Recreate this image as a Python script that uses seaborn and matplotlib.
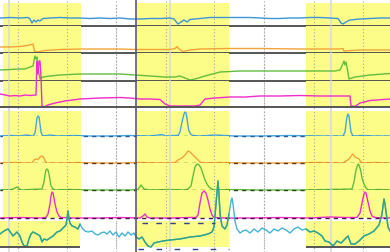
import numpy as np
import matplotlib
matplotlib.use("Agg")
import matplotlib.pyplot as plt
import seaborn as sns

sns.set_theme(style="white")

W, H = 390, 253

# shaded intervals, grid and markers (x in screen-time units 0..390)
spans_top = [(3, 81), (137, 229), (306, 390)]
spans_bottom = [(0, 80), (136, 229), (306, 390)]
grid_x = [18, 67, 116, 166, 214, 264, 314, 363]
event_x = [9, 170, 331]
cursor_x = 136

# ---- row 1: blue level trace
t_blue = [0, 10, 20, 28, 30, 32, 34, 36, 38, 40, 43, 50, 60, 70, 80, 90, 100, 110, 120, 130, 140, 150,
          160, 170, 174, 178, 181, 184, 187, 190, 200, 210, 220, 250, 260, 270, 280, 290, 300, 310, 320,
          330, 338, 341, 343, 346, 350, 360, 370, 380, 390]
v_blue = [8, 8.5, 8, 8.5, 7, 3, 6, 4, 6, 5, 7.5, 8, 8.5, 8, 8, 7.5, 8, 7.5, 8, 7, 7, 7.5,
          7.5, 8, 7, 2, 4, 6, 4, 6.5, 7.5, 8.5, 8.5, 8.5, 8, 7.5, 7.5, 8, 8, 8.5, 8.5,
          8, 7.5, 3, 2, 4, 6, 7, 7.5, 8, 8]

# ---- row 2: orange level trace
t_orange = [0, 10, 20, 30, 33, 34.5, 37, 45, 60, 80, 100, 120, 135, 150, 170, 175, 177, 179, 183, 190,
            200, 230, 260, 300, 340, 343, 344, 360, 390]
v_orange = [6, 6, 6.5, 8, 9, 2, 1, 2.5, 3.5, 4, 4, 4, 3.5, 3.5, 3.5, 4.5, 6.5, 4, 1.5, 3,
            4, 4.5, 4.5, 4, 4, 4.5, 2, 3, 3]

# ---- row 3: green level trace
t_green = [0, 10, 20, 25, 30, 33, 35, 36, 37, 38, 40, 43, 50, 60, 80, 100, 120, 135, 150, 165, 175, 180,
           185, 190, 195, 205, 220, 240, 260, 300, 335, 340, 342, 344, 345, 346, 347, 349, 355, 370, 390]
v_green = [11, 11.5, 12, 12, 14, 15, 25, 22, 24, 12, 2, 4, 5, 6, 7, 7, 7, 6, 5, 4, 4, 5,
           3, 1, 2, 5, 9, 10, 10, 10, 10, 11, 15, 20, 16, 19, 14, 2, 4, 6, 7.5]

# ---- row 4: magenta level trace
t_mag = [0, 5, 10, 15, 20, 25, 30, 36, 37, 38, 39, 40, 41, 42, 44, 48, 55, 65, 80, 100, 120, 130, 140,
         150, 160, 165, 170, 180, 195, 200, 205, 215, 230, 245, 260, 280, 300, 320, 340, 350, 351, 355,
         360, 370, 390]
v_mag = [13, 12, 11, 11.5, 11, 12, 11.5, 12, 46, 33, 46, 46, 30, 1, 0, 2, 4, 6, 8, 9, 9.5, 9, 8,
         8, 7.5, 3, 1, 1, 1, 2, 8, 9, 10, 10, 11, 11, 11.5, 11, 11, 11, 1, 0.5,
         4, 6.5, 8]

# ---- row 5: blue peaks
t_p_blue = [0, 12, 20, 26, 30, 33, 35, 36, 37, 38, 39, 40, 41, 42, 44, 50, 58, 75, 90, 110, 130, 150,
            158, 162, 166, 172, 178, 180, 182, 184, 185, 186, 187, 188, 189, 191, 193, 200, 215, 235,
            260, 290, 320, 335, 343, 345, 346, 347, 348, 349, 350, 351, 353, 362, 375, 390]
v_p_blue = [0, 0.5, 0, 1, 0.5, 0, 3, 10, 18, 20, 19, 12, 4, 1, 0, 1, 0, 0.5, 0, 0, 0.5, 0,
            1, 1.5, 0, 0.5, 0.5, 4, 14, 22, 24, 23, 18, 10, 5, 1.5, 0.5, 0, 1, 0,
            0, 0.5, 0, 0, 0, 4, 12, 19, 22, 20, 12, 4, 0, 0.5, 0, 0]

# ---- row 6: orange peaks
t_p_orange = [0, 15, 25, 32, 34, 36, 38, 40, 42, 44, 45, 47, 60, 80, 100, 120, 140, 160, 175, 178, 182,
              185, 188, 190, 192, 195, 198, 200, 203, 220, 250, 280, 320, 343, 346, 349, 352, 353, 355,
              357, 359, 361, 363, 375, 390]
v_p_orange = [0, 0.5, 0, 0, 3, 4, 3.5, 6, 7, 5, 2, 0, 0, 0.5, 0, 0, 0.5, 0, 0.5, 3, 5,
              8, 12, 11, 9, 6, 3, 1, 0, 0.5, 0, 0, 0.5, 0, 2, 4, 8, 9, 6,
              5, 4, 1, 0, 0.5, 0]

# ---- row 7: green peaks
t_p_green = [0, 12, 15, 17, 19, 21, 30, 42, 44, 45, 46, 47, 48, 49, 50, 51, 53, 55, 70, 90, 110, 130,
             138, 141, 144, 150, 170, 185, 188, 191, 193, 195, 197, 199, 201, 203, 205, 207, 209, 212,
             215, 230, 260, 300, 330, 352, 354, 356, 358, 359, 360, 361, 362, 364, 366, 368, 380, 390]
v_p_green = [0, 0.5, 2, 3, 1.5, 0, 0.5, 1, 8, 15, 20, 21, 20, 16, 10, 4, 1, 0, 0.5, 0, 0, 0,
             0.5, 5, 1, 0, 0.5, 0, 1, 4, 14, 23, 26, 25, 22, 16, 10, 6, 3, 1,
             0, 0.5, 0, 0, 0.5, 1, 8, 20, 26, 25, 22, 18, 12, 6, 2, 0, 0.5, 0]

# ---- row 8: magenta peaks
t_p_mag = [0, 20, 40, 46, 48, 50, 51, 52, 53, 54, 55, 57, 59, 61, 75, 100, 120, 140, 143, 145, 147,
           150, 170, 190, 196, 198, 200, 202, 204, 206, 208, 210, 212, 214, 225, 250, 280, 310, 330,
           345, 357, 360, 362, 364, 365, 366, 368, 370, 372, 375, 385, 390]
v_p_mag = [0, 0.5, 0, 0.5, 4, 14, 22, 26, 25, 20, 14, 6, 2, 0.5, 0, 0, 0.5, 0, 2, 4, 1,
           0, 0, 0.5, 0.5, 3, 15, 25, 27, 25, 18, 9, 3, 0.5, 0, 0, 0.5, 0, 1,
           0.5, 0.5, 5, 15, 24, 26, 25, 16, 7, 2, 0.5, 0, 0]

# ---- row 9: bottom waveform
t_wave = [0, 4, 8, 11, 13, 15, 17, 20, 22, 24, 27, 29, 31, 33, 37, 40, 42, 44, 47, 50, 53, 57, 60, 63,
          66, 67, 68, 69, 70, 72, 75, 78, 80, 82, 85, 88, 92, 95, 98, 101, 104, 107, 110, 113, 116,
          119, 122, 125, 128, 131, 134, 136, 139, 142, 145, 148, 151, 154, 158, 163, 170, 180, 190,
          200, 208, 212, 214, 216, 218, 219, 220, 222, 225, 227, 229, 231, 232, 233, 235, 237, 240,
          243, 246, 250, 254, 258, 262, 266, 270, 274, 278, 282, 286, 290, 294, 298, 302, 306, 310,
          314, 318, 322, 325, 329, 333, 337, 341, 345, 348, 351, 355, 359, 364, 369, 374, 379, 382,
          384, 385, 387, 388, 390]
v_wave = [13, 16, 18, 14, 11, 13, 15, 11, 5, 1, 1, 8, 13, 15, 13, 11, 5, 8, 7, 9, 11, 15, 16, 19,
          22, 28, 36, 28, 24, 21, 20, 18, 23, 19, 16, 15, 16, 13, 12, 14, 15, 13, 16, 12, 15,
          10, 14, 11, 15, 12, 14, 10, 8, 10, 5, 1, 0, 4, 5, 6, 7, 8, 10,
          11, 13, 15, 20, 43, 66, 53, 33, 21, 18, 22, 33, 46, 49, 43, 26, 18, 14,
          16, 17, 14, 18, 15, 19, 17, 14, 18, 16, 19, 17, 14, 18, 20, 17, 18, 15,
          16, 14, 11, 6, 5, 1, 6, 4, 8, 11, 3, 3, 6, 11, 13, 16, 22, 33,
          48, 43, 28, 20, 16]

# ---------------------------------------------------------------- drawing
fig = plt.figure(figsize=(W / 100, H / 100), dpi=100)

YELLOW = "#fcfc88"
BORDER = "#555555"
GRIDC = "#a8a8a8"
EVENTC = "#dcdcdc"
CURSORC = "#5a5a72"


def add_row(top, bot):
    ax = fig.add_axes([0, 1 - bot / H, 1, (bot - top) / H])
    ax.set_axis_off()
    ax.patch.set_alpha(0)
    return ax


def verticals(ax, z=0.5):
    for gx in grid_x:
        ax.axvline(gx, color=GRIDC, lw=0.8, ls=(0, (1, 2)), zorder=z)
    for ex in event_x:
        ax.axvline(ex, color=EVENTC, lw=1.3, zorder=z)


def finish(ax, top, bot):
    ax.set_xlim(0, W)
    ax.set_ylim(0, bot - top)
    for ln in ax.lines:
        ln.set_clip_on(False)


# background layer for gaps between the panels
bg = fig.add_axes([0, 0, 1, 1])
bg.set_axis_off()
bg.set_xlim(0, W)
bg.set_ylim(H, 0)
verticals(bg)

level_rows = [
    ((4, 27), t_blue, v_blue, "#3d95d8"),
    ((27, 54), t_orange, v_orange, "#f2a43a"),
    ((54, 82), t_green, v_green, "#62bd3e"),
    ((82, 108), t_mag, v_mag, "#f02ccc"),
]
for (top, bot), t, v, col in level_rows:
    ax = add_row(top, bot)
    for a, b in spans_top:
        ax.axvspan(a, b, color=YELLOW, lw=0, zorder=0)
    verticals(ax)
    sns.lineplot(x=t, y=v, ax=ax, color=col, lw=1.0, estimator=None, zorder=3)
    ax.axhline(0, color=BORDER, lw=1.4, zorder=4)
    finish(ax, top, bot)

peak_rows = [
    ((112, 137), t_p_blue, v_p_blue, "#45a8e0", "#2a5a9a"),
    ((137, 164), t_p_orange, v_p_orange, "#f2a43a", "#5a3a1a"),
    ((164, 191), t_p_green, v_p_green, "#62bd3e", "#2a4a1a"),
    ((191, 219), t_p_mag, v_p_mag, "#f02ccc", "#4a1a40"),
]
for (top, bot), t, v, col, dash in peak_rows:
    ax = add_row(top, bot)
    for a, b in spans_top:
        ax.axvspan(a, b, color=YELLOW, lw=0, zorder=0)
    verticals(ax)
    sns.lineplot(x=t, y=v, ax=ax, color=col, lw=1.0, estimator=None, zorder=3)
    ax.axhline(0, color=dash, lw=1.0, dashes=(3, 3), zorder=4)
    finish(ax, top, bot)

# bottom waveform panel
top, bot = 222, 248
ax = add_row(top, bot)
for a, b in spans_bottom:
    ax.axvspan(a, b, color=YELLOW, lw=0, zorder=0)
verticals(ax)
tw = np.array(t_wave, dtype=float)
vw = np.array(v_wave, dtype=float)
sns.lineplot(x=tw, y=vw, ax=ax, color="#45b2d6", lw=1.0, estimator=None, zorder=3)
for a, b in spans_bottom:
    sel = (tw >= a) & (tw <= b)
    sns.lineplot(x=tw[sel], y=vw[sel], ax=ax, color="#36a482", lw=1.0, estimator=None, zorder=4)
ax.hlines(0.3, 0, 80, color=BORDER, lw=1.4, zorder=5)
ax.hlines(0.3, 306, 390, color=BORDER, lw=1.4, zorder=5)
ax.hlines(-2, 138, 229, color="#334488", lw=1.0, linestyles=(0, (4, 9)), zorder=5)
ax.hlines(24, 142, 215, color="#334488", lw=1.0, linestyles=(0, (4, 6)), zorder=5)
finish(ax, top, bot)
for coll in ax.collections:
    coll.set_clip_on(False)

# cursor line on top of everything
ov = fig.add_axes([0, 0, 1, 1])
ov.set_axis_off()
ov.patch.set_alpha(0)
ov.set_xlim(0, W)
ov.set_ylim(H, 0)
ov.axvline(cursor_x, color=CURSORC, lw=1.2)

fig.savefig("out.png", dpi=100)
